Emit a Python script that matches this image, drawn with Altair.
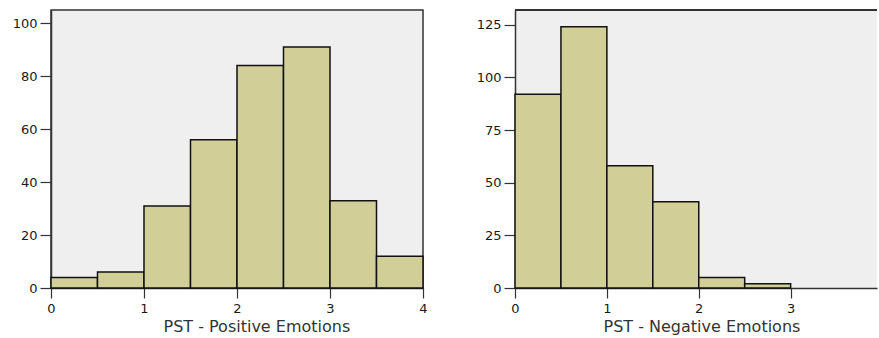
import altair as alt
import pandas as pd

# Histogram bins (left edge, right edge) and counts for each scale
pos_start = [0.0, 0.5, 1.0, 1.5, 2.0, 2.5, 3.0, 3.5]
pos_end = [0.5, 1.0, 1.5, 2.0, 2.5, 3.0, 3.5, 4.0]
pos_count = [4, 6, 31, 56, 84, 91, 33, 12]

neg_start = [0.0, 0.5, 1.0, 1.5, 2.0, 2.5]
neg_end = [0.5, 1.0, 1.5, 2.0, 2.5, 3.0]
neg_count = [92, 124, 58, 41, 5, 2]

pos_ticks_x = [0, 1, 2, 3, 4]
pos_ticks_y = [0, 20, 40, 60, 80, 100]
neg_ticks_x = [0, 1, 2, 3]
neg_ticks_y = [0, 25, 50, 75, 100, 125]

FONT = "DejaVu Sans"
BAR_FILL = "#D2CE98"
FRAME = "#333333"

pos_df = pd.DataFrame({"start": pos_start, "end": pos_end, "count": pos_count})
neg_df = pd.DataFrame({"start": neg_start, "end": neg_end, "count": neg_count})


def x_axis(title, ticks, title_x):
    return alt.Axis(
        title=title, values=ticks, grid=False, tickSize=10, labelPadding=4,
        titlePadding=3, titleX=title_x, titleAnchor="start",
        labelFontSize=13, titleFontSize=16, titleFontWeight="normal",
        labelFont=FONT, titleFont=FONT, labelColor="#1a1a1a", titleColor="#333333",
        domainColor=FRAME, domainWidth=1.5, tickColor=FRAME, tickWidth=1.2,
        labelFlush=False,
    )


def y_axis(ticks):
    return alt.Axis(
        title=None, values=ticks, grid=False, tickSize=11, labelPadding=3,
        labelFontSize=13, labelFont=FONT, labelColor="#1a1a1a",
        domainColor=FRAME, domainWidth=1.5, tickColor=FRAME, tickWidth=1.2,
    )


pos = alt.Chart(pos_df).mark_rect(
    fill=BAR_FILL, stroke="#111111", strokeWidth=1.5
).encode(
    x=alt.X("start:Q", scale=alt.Scale(domain=[0, 4], nice=False, zero=False),
            axis=x_axis("PST - Positive Emotions", pos_ticks_x, 112)),
    x2="end:Q",
    y=alt.Y("count:Q", scale=alt.Scale(domain=[0, 105], nice=False),
            axis=y_axis(pos_ticks_y)),
    y2=alt.Y2(datum=0),
).properties(
    width=372, height=278,
    view=alt.ViewBackground(fill="#EFEFEF", stroke=FRAME, strokeWidth=1.5),
)

neg_bars = alt.Chart(neg_df).mark_rect(
    fill=BAR_FILL, stroke="#111111", strokeWidth=1.5
).encode(
    x=alt.X("start:Q", scale=alt.Scale(domain=[0, 3.94], nice=False, zero=False),
            axis=x_axis("PST - Negative Emotions", neg_ticks_x, 88)),
    x2="end:Q",
    y=alt.Y("count:Q", scale=alt.Scale(domain=[0, 132], nice=False),
            axis=y_axis(neg_ticks_y)),
    y2=alt.Y2(datum=0),
)

# top edge of the second panel's frame (its right side runs off the page)
neg_top = alt.Chart(neg_df).mark_rule(color=FRAME, strokeWidth=1.5).encode(
    x=alt.value(0), x2=alt.value(362), y=alt.value(0)
)

neg = alt.layer(neg_bars, neg_top).properties(
    width=362, height=278,
    view=alt.ViewBackground(fill="#EFEFEF", stroke="transparent"),
)

chart = alt.hconcat(pos, neg, spacing=48).properties(
    padding={"left": 11, "top": 9, "right": 0, "bottom": 1},
    background="white",
).configure_view(strokeWidth=0)

chart.save("out.html", embed_options={"renderer": "svg", "actions": False})
